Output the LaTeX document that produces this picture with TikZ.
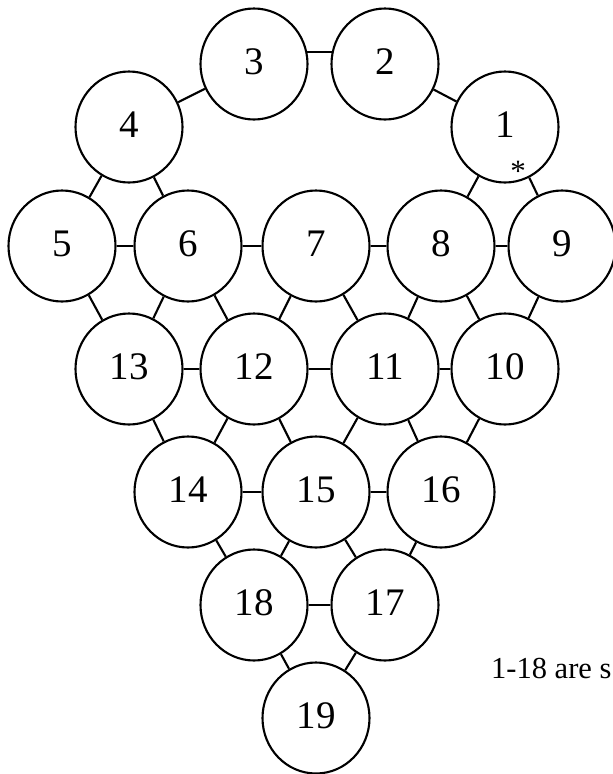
\documentclass[tikz,border=0pt]{standalone}
\usepackage{fontspec}
\setmainfont{Liberation Serif}
\usetikzlibrary{shapes.geometric}
\begin{document}
\begin{tikzpicture}[x=1pt,y=-1pt,
        ball/.style={draw,ellipse,line width=2.1pt,minimum width=107pt,minimum height=111pt,inner sep=0pt,text height=26pt,text depth=6pt,font=\fontsize{39}{42}\selectfont},
        link/.style={line width=2.1pt}]
        \useasboundingbox (0,0) rectangle (613,774);

        % top arc
        \node[ball] (3) at (254,64) {3};
        \node[ball] (2) at (385,64) {2};
        \node[ball] (4) at (129,127) {4};
        \node[ball] (1) at (505,127) {1};
        \node[font=\fontsize{31}{32}\selectfont] (star) at (518,171) {*};

        % rows
        \node[ball] (5) at (62,246) {5};
        \node[ball] (6) at (188,246) {6};
        \node[ball] (7) at (316,246) {7};
        \node[ball] (8) at (441,246) {8};
        \node[ball] (9) at (562,246) {9};

        \node[ball] (13) at (129,369) {13};
        \node[ball] (12) at (254,369) {12};
        \node[ball] (11) at (385,369) {11};
        \node[ball] (10) at (505,369) {10};

        \node[ball] (14) at (188,492) {14};
        \node[ball] (15) at (316,492) {15};
        \node[ball] (16) at (441,492) {16};

        \node[ball] (18) at (254,605) {18};
        \node[ball] (17) at (385,605) {17};

        \node[ball] (19) at (316,718) {19};

        \node[anchor=base west,inner sep=0pt,font=\fontsize{30.5}{34}\selectfont] (note) at (491,678) {1-18 are s};

        \draw[link] (3.13) -- (2.167);
        \draw[link] (3) -- (4);
        \draw[link] (2) -- (1);
        \draw[link] (4) -- (5);
        \draw[link] (4) -- (6);
        \draw[link] (1) -- (8);
        \draw[link] (1) -- (9);

        \draw[link] (5) -- (6);
        \draw[link] (6) -- (7);
        \draw[link] (7) -- (8);
        \draw[link] (8) -- (9);
        \draw[link] (5) -- (13);
        \draw[link] (6) -- (13);
        \draw[link] (6) -- (12);
        \draw[link] (7) -- (12);
        \draw[link] (7) -- (11);
        \draw[link] (8) -- (11);
        \draw[link] (8) -- (10);
        \draw[link] (9) -- (10);

        \draw[link] (13) -- (12);
        \draw[link] (12) -- (11);
        \draw[link] (11) -- (10);
        \draw[link] (13) -- (14);
        \draw[link] (12) -- (14);
        \draw[link] (12) -- (15);
        \draw[link] (11) -- (15);
        \draw[link] (11) -- (16);
        \draw[link] (10) -- (16);

        \draw[link] (14) -- (15);
        \draw[link] (15) -- (16);
        \draw[link] (14) -- (18);
        \draw[link] (15) -- (18);
        \draw[link] (15) -- (17);
        \draw[link] (16) -- (17);

        \draw[link] (18) -- (17);
        \draw[link] (18) -- (19);
        \draw[link] (17) -- (19);
\end{tikzpicture}
\end{document}
